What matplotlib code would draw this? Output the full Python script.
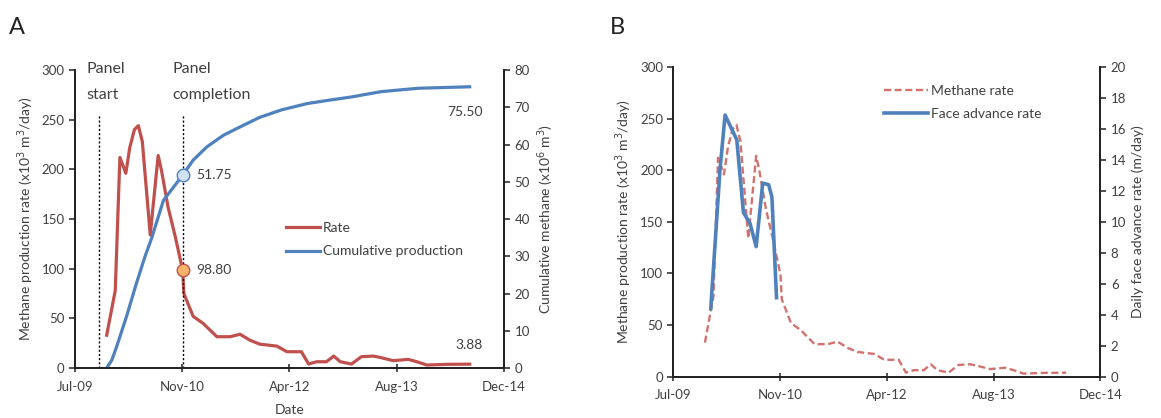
import matplotlib
matplotlib.use("Agg")
import matplotlib.pyplot as plt

plt.rcParams['font.family'] = ['Lato', 'DejaVu Sans']

# x in months after Jul-09
tick_pos = [0, 16.25, 32.5, 48.75, 65]
tick_lab = ['Jul-09', 'Nov-10', 'Apr-12', 'Aug-13', 'Dec-14']

rate_m = [4.8, 6.1, 6.8, 7.7, 8.3, 9.0, 9.6, 10.2, 11.4, 12.6, 13.1, 14.1, 15.2, 16.3, 16.5,
          17.9, 19.4, 21.5, 23.5, 25.0, 26.5, 28.0, 30.6, 32.1, 34.3, 35.4, 36.6, 38.1,
          39.2, 40.2, 41.9, 43.4, 45.2, 46.2, 48.2, 50.5, 51.8, 53.3, 56.3, 59.8]
rate_v = [33, 78, 212, 196, 222, 240, 244, 228, 134, 214, 199, 162, 132, 98.8, 75,
          52, 45, 31.5, 31.5, 34, 28, 24, 22, 16.4, 16.4, 4, 6.3, 6.3,
          12, 6.3, 4, 11.4, 12, 10.7, 7.4, 8.7, 6.3, 3, 3.7, 3.88]

cum_m = [4.8, 5.6, 6.3, 7.8, 9.3, 10.6, 11.6, 13.4, 16.3, 17.9, 20, 22.5, 25.1, 28,
         31.3, 35.2, 38.5, 42, 46.4, 52, 59.8]
cum_v = [0, 2.2, 5.7, 13.8, 22.7, 29.9, 34.8, 45, 51.75, 55.8, 59.4, 62.5, 64.8, 67.3,
         69.3, 71.0, 71.9, 72.8, 74.2, 75.1, 75.5]

face_m = [5.69, 7.1, 7.87, 9.65, 10.66, 11.67, 12.6, 13.6, 14.5, 15.0, 15.7]
face_v = [4.4, 13.4, 16.9, 15.3, 10.6, 9.9, 8.4, 12.5, 12.4, 11.6, 5.1]

panel_start = 3.7
panel_end = 16.3

red = '#c0504d'
blue = '#4f81bd'
txt = '#404040'

fig = plt.figure(figsize=(11.61, 4.18), dpi=100)


def style(ax, ax2):
    for a in (ax, ax2):
        a.spines['top'].set_visible(False)
        for s in ('left', 'bottom', 'right'):
            a.spines[s].set_linewidth(1.3)
            a.spines[s].set_color('#222222')
        a.tick_params(labelsize=9.5, labelcolor=txt, colors='#222222', length=4, width=1.1)
    ax.set_xlim(0, 65)
    ax.set_xticks(tick_pos)
    ax.set_xticklabels(tick_lab)
    ax.tick_params(axis='x', direction='inout', length=6, pad=6)
    ax.set_ylim(0, 300)
    ax.set_yticks(range(0, 301, 50))


# ---- Panel A
ax = fig.add_axes([0.0646, 0.1196, 0.3695, 0.7129])
ax2 = ax.twinx()
style(ax, ax2)
ax2.set_ylim(0, 80)
ax2.set_yticks(range(0, 81, 10))

l1, = ax.plot(rate_m, rate_v, color=red, lw=2.3, label='Rate')
l2, = ax2.plot(cum_m, cum_v, color=blue, lw=2.3, label='Cumulative production')
ax.vlines([panel_start, panel_end], 0, 255, colors='black', linestyles=(0, (1.5, 1.5)), lw=1)
ax.plot(panel_end, 98.8, 'o', ms=9, mfc='#f6b26b', mec=red, mew=1, zorder=5)
ax2.plot(panel_end, 51.75, 'o', ms=9, mfc='#cfe2f3', mec=blue, mew=1, zorder=5)
ax.text(18.3, 98.8, '98.80', fontsize=10, color=txt, va='center')
ax.text(18.3, 194, '51.75', fontsize=10, color=txt, va='center')
ax.text(61.8, 258, '75.50', fontsize=10, color=txt, va='center', ha='right')
ax.text(61.8, 23, '3.88', fontsize=10, color=txt, va='center', ha='right')
ax.text(1.8, 301, 'Panel', fontsize=11.5, color=txt, va='center', clip_on=False)
ax.text(1.8, 275, 'start', fontsize=11.5, color=txt, va='center', clip_on=False)
ax.text(14.8, 301, 'Panel', fontsize=11.5, color=txt, va='center', clip_on=False)
ax.text(14.8, 275, 'completion', fontsize=11.5, color=txt, va='center', clip_on=False)
ax.legend(handles=[l1, l2], loc='upper left', bbox_to_anchor=(0.48, 0.51), frameon=False,
          fontsize=10, handlelength=2.4, handletextpad=0.2, labelspacing=0.85,
          labelcolor=txt, borderaxespad=0)
ax.set_ylabel('Methane production rate (x10$^3$ m$^3$/day)', fontsize=10, color=txt)
ax2.set_ylabel('Cumulative methane (x10$^6$ m$^3$)', fontsize=10, color=txt)
ax.set_xlabel('Date', fontsize=10, color=txt, labelpad=8)
fig.text(0.008, 1 - 28 / 418, 'A', fontsize=17, color='#222222', va='center')

# ---- Panel B
bx = fig.add_axes([0.580, 0.0988, 0.3678, 0.7409])
bx2 = bx.twinx()
style(bx, bx2)
bx2.set_ylim(0, 20)
bx2.set_yticks(range(0, 21, 2))
m1, = bx.plot(rate_m, rate_v, color='#d2726e', lw=1.7, ls=(0, (3, 1.5)), label='Methane rate')
m2, = bx2.plot(face_m, face_v, color=blue, lw=2.6, label='Face advance rate')
bx.legend(handles=[m1, m2], loc='upper left', bbox_to_anchor=(0.48, 0.96), frameon=False,
          fontsize=10, handlelength=3.2, handletextpad=0.2, labelspacing=0.8,
          labelcolor=txt, borderaxespad=0)
bx.set_ylabel('Methane production rate (x10$^3$ m$^3$/day)', fontsize=10, color=txt)
bx2.set_ylabel('Daily face advance rate (m/day)', fontsize=10, color=txt)
fig.text(0.525, 1 - 28 / 418, 'B', fontsize=17, color='#222222', va='center')

fig.savefig('out.png', dpi=100)
